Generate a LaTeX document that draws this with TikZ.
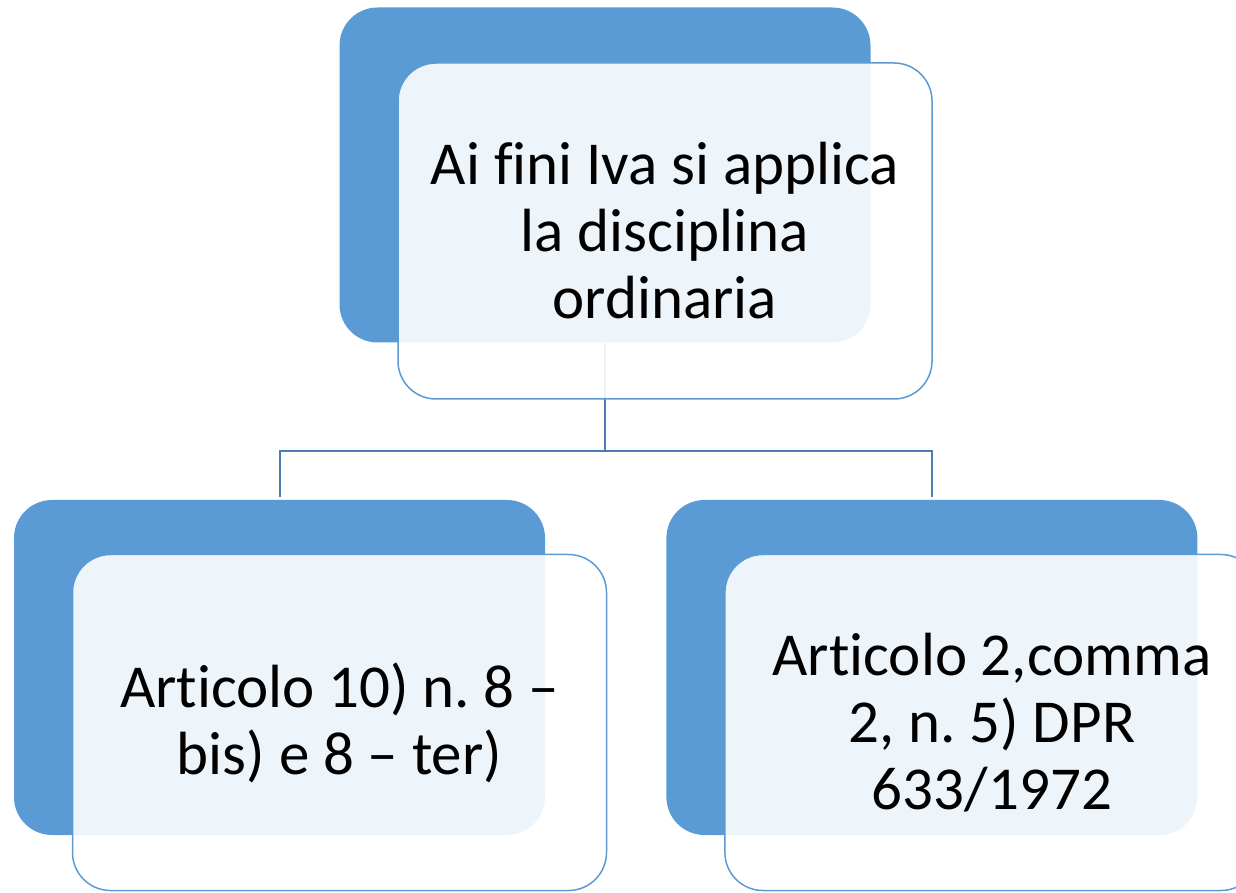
\documentclass[tikz,border=0pt]{standalone}
\usepackage{fontspec}
\setmainfont{Carlito}[Ligatures=NoCommon]
\frenchspacing
\usetikzlibrary{positioning}
\definecolor{boxBlue}{HTML}{5B9BD5}
\definecolor{lineBlue}{HTML}{4A7EB0}
\tikzset{%
  % Specifications for style of nodes:
       back/.style = {rectangle, rounded corners=38pt, fill=boxBlue,
                      minimum width=531pt, minimum height=335pt, inner sep=0pt},
      front/.style = {rectangle, rounded corners=38pt, draw=boxBlue,
                      line width=1.5pt, fill=white, fill opacity=0.9,
                      text opacity=1, minimum width=534pt, minimum height=336pt,
                      inner sep=0pt, align=center,
                      font=\fontsize{61}{67}\selectfont},
  connector/.style = {draw=lineBlue, line width=2pt},
}
\begin{document}
\begin{tikzpicture}[x=1pt, y=1pt]
  \useasboundingbox (0,0) rectangle (1236,892);
  \clip (0,0) rectangle (1236,892);
  % Specification of back boxes (position, etc.)
  \node (topBack)   [back] at (605,717) {};
  \node (leftBack)  [back] at (279.5,224.5) {};
  \node (rightBack) [back, right=121pt of leftBack] {};
  % Specification of lines between back boxes
  \coordinate [below=108pt of topBack] (fork);
  \draw[connector] (topBack.south) -- (fork) -| ([yshift=3pt]leftBack.north);
  \draw[connector] (fork) -| ([yshift=3pt]rightBack.north);
  % Specification of front boxes with the texts
  \node (topFront)   [front] at ([xshift=60pt,yshift=-56pt]topBack.center)
        {Ai fini Iva si applica\\la disciplina\\ordinaria};
  \node (leftFront)  [front] at ([xshift=60pt,yshift=-55pt]leftBack.center)
        {Articolo 10) n. 8 –\\bis) e 8 – ter)};
  \node (rightFront) [front] at ([xshift=60pt,yshift=-55pt]rightBack.center)
        {Articolo 2,comma\\2, n. 5) DPR\\633/1972};
\end{tikzpicture}
\end{document}
